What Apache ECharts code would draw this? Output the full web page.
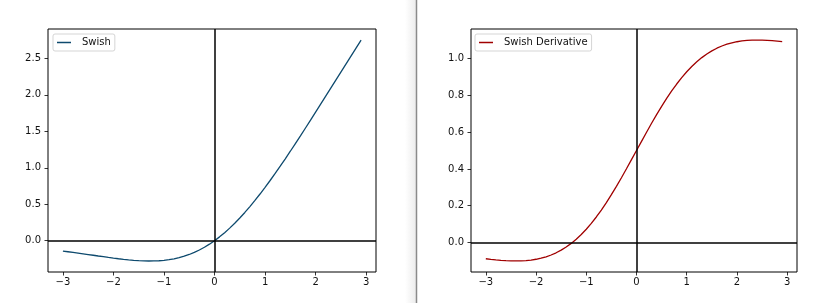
<!DOCTYPE html>
<html>
<head>
<meta charset="utf-8">
<script src="https://cdn.jsdelivr.net/npm/echarts@6/dist/echarts.min.js"></script>
<style>
html,body{margin:0;padding:0;background:#fff;}
#chart{width:825px;height:303px;}
</style>
</head>
<body>
<div id="chart"></div>
<script>
var xValues = [-3.0,-2.9,-2.8,-2.7,-2.6,-2.5,-2.4,-2.3,-2.2,-2.1,-2.0,-1.9,-1.8,-1.7,-1.6,-1.5,-1.4,-1.3,-1.2,-1.1,-1.0,-0.9,-0.8,-0.7,-0.6,-0.5,-0.4,-0.3,-0.2,-0.1,
  0.0,0.1,0.2,0.3,0.4,0.5,0.6,0.7,0.8,0.9,1.0,1.1,1.2,1.3,1.4,1.5,1.6,1.7,1.8,1.9,2.0,2.1,2.2,2.3,2.4,2.5,2.6,2.7,2.8,2.9];

var swishValues = [-0.1423,-0.1513,-0.1605,-0.1700,-0.1798,-0.1896,-0.1996,-0.2096,-0.2194,-0.2291,-0.2384,-0.2472,-0.2553,-0.2626,-0.2688,-0.2736,-0.2769,-0.2784,-0.2778,-0.2747,-0.2689,-0.2601,-0.2480,-0.2323,-0.2126,-0.1888,-0.1605,-0.1277,-0.0900,-0.0475,
  0.0000,0.0525,0.1100,0.1723,0.2395,0.3112,0.3874,0.4677,0.5520,0.6399,0.7311,0.8253,0.9222,1.0216,1.1231,1.2264,1.3312,1.4374,1.5447,1.6528,1.7616,1.8709,1.9806,2.0904,2.2004,2.3104,2.4202,2.5300,2.6395,2.7487];

var derivValues = [-0.0881,-0.0912,-0.0940,-0.0964,-0.0982,-0.0994,-0.0998,-0.0994,-0.0978,-0.0950,-0.0908,-0.0849,-0.0773,-0.0676,-0.0556,-0.0413,-0.0244,-0.0046,0.0180,0.0436,0.0723,0.1041,0.1389,0.1766,0.2171,0.2600,0.3052,0.3522,0.4007,0.4501,
  0.5000,0.5499,0.5993,0.6478,0.6948,0.7400,0.7829,0.8234,0.8611,0.8959,0.9277,0.9564,0.9820,1.0046,1.0244,1.0413,1.0556,1.0676,1.0773,1.0849,1.0908,1.0950,1.0978,1.0994,1.0998,1.0994,1.0982,1.0964,1.0940,1.0912];

var xTicks = [-3,-2,-1,0,1,2,3];
var swishYTicks = [0,0.5,1.0,1.5,2.0,2.5];
var derivYTicks = [0,0.2,0.4,0.6,0.8,1.0];
var seriesNames = ['Swish','Swish Derivative'];

function pairs(xs, ys){ return xs.map(function(x,i){return [x, ys[i]];}); }
function fmtX(v){ return String(Math.round(v)).replace('-', '\u2212'); }
function fmtY(v){ return (Math.round(v*10)/10).toFixed(1).replace('-', '\u2212'); }

var font = 'DejaVu Sans';
function xAxis(idx){
  return {type:'value', gridIndex:idx, min:-3.295, max:3.195,
    axisLine:{show:false, onZero:false}, splitLine:{show:false},
    axisTick:{show:true, inside:false, length:3.5, customValues:xTicks, lineStyle:{color:'#000',width:0.8}},
    axisLabel:{customValues:xTicks, formatter:fmtX, color:'#111', fontFamily:font, fontSize:10, margin:5}};
}
function yAxis(idx, mn, mx, ticks){
  return {type:'value', gridIndex:idx, min:mn, max:mx,
    axisLine:{show:false, onZero:false}, splitLine:{show:false},
    axisTick:{show:true, inside:false, length:3.5, customValues:ticks, lineStyle:{color:'#000',width:0.8}},
    axisLabel:{customValues:ticks, formatter:fmtY, color:'#111', fontFamily:font, fontSize:10, margin:7}};
}
var zeroLines = {silent:true, symbol:'none', label:{show:false},
  lineStyle:{color:'#000', width:1.5, type:'solid'}, emphasis:{disabled:true},
  data:[{xAxis:0},{yAxis:0}]};

function legend(left, name){
  return {show:true, left:left, top:34, data:[name], orient:'horizontal',
    icon:'rect', itemWidth:14, itemHeight:1.5,
    borderColor:'#d5d5d5', borderWidth:1, borderRadius:2, backgroundColor:'#fff',
    padding:[3,4,3,4],
    textStyle:{fontFamily:font, fontSize:10, color:'#111', padding:[0,0,0,6], lineHeight:11}};
}

var chart = echarts.init(document.getElementById('chart'), null, {renderer:'canvas'});
chart.setOption({
  animation:false,
  backgroundColor:'#fff',
  grid:[
    {left:48, top:29, width:328, height:243, show:true, borderColor:'#000', borderWidth:1, backgroundColor:'transparent'},
    {left:471, top:29, width:326, height:243, show:true, borderColor:'#000', borderWidth:1, backgroundColor:'transparent'}
  ],
  xAxis:[xAxis(0), xAxis(1)],
  yAxis:[yAxis(0,-0.429,2.902,swishYTicks), yAxis(1,-0.16,1.16,derivYTicks)],
  legend:[legend(53, seriesNames[0]), legend(475, seriesNames[1])],
  graphic:[
    {type:'rect', shape:{x:405,y:0,width:11,height:303}, silent:true,
      style:{fill:new echarts.graphic.LinearGradient(0,0,1,0,[{offset:0,color:'#ffffff'},{offset:1,color:'#ececec'}])}},
    {type:'line', shape:{x1:416.5,y1:0,x2:416.5,y2:303}, silent:true, style:{stroke:'#8a8a8a', lineWidth:1.5}}
  ],
  series:[
    {name:seriesNames[0], type:'line', xAxisIndex:0, yAxisIndex:0, data:pairs(xValues, swishValues),
      showSymbol:false, symbol:'none', lineStyle:{color:'#0e4a6e', width:1.3}, itemStyle:{color:'#0e4a6e'}, z:3,
      markLine:zeroLines},
    {name:seriesNames[1], type:'line', xAxisIndex:1, yAxisIndex:1, data:pairs(xValues, derivValues),
      showSymbol:false, symbol:'none', lineStyle:{color:'#a00000', width:1.3}, itemStyle:{color:'#a00000'}, z:3,
      markLine:zeroLines}
  ]
});
</script>
</body>
</html>
